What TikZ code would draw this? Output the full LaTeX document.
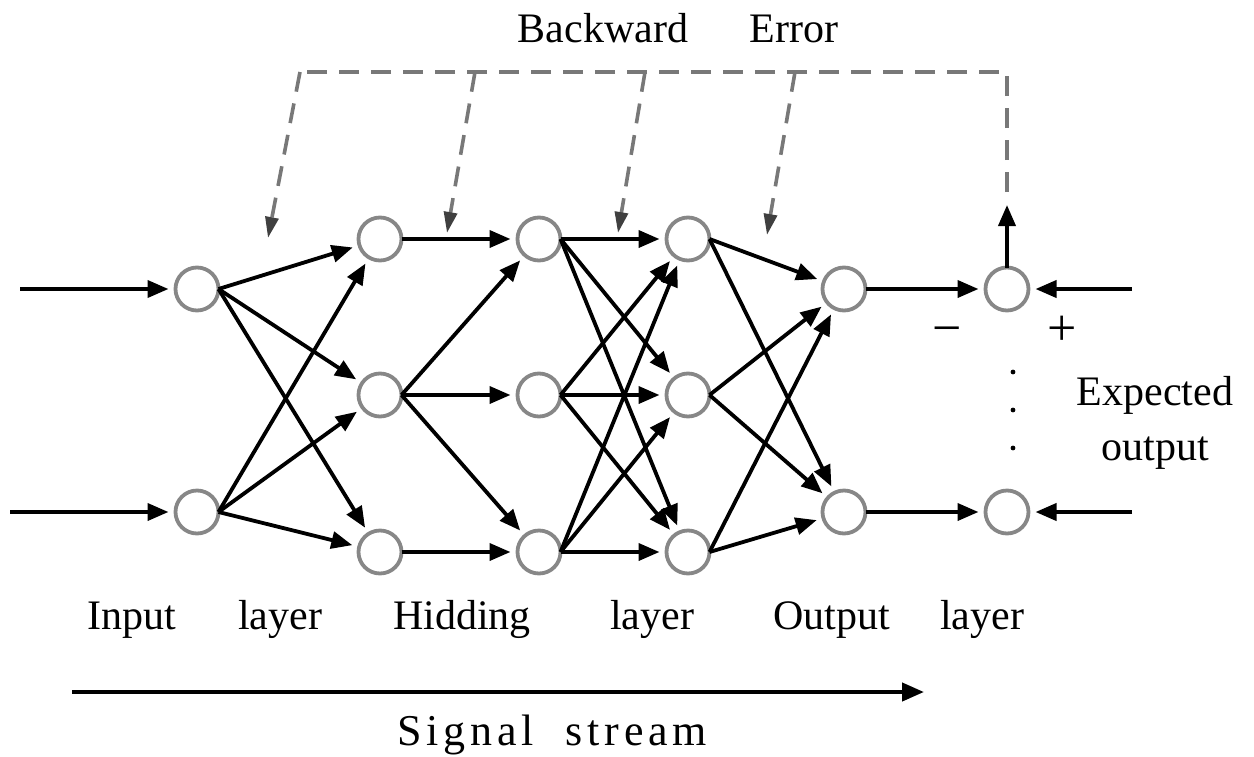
\documentclass[tikz,border=0pt]{standalone}
\usepackage{fontspec}
\setmainfont{Liberation Serif}
\usetikzlibrary{arrows.meta}
\definecolor{ngray}{RGB}{135,135,135}
\definecolor{dgray}{RGB}{120,120,120}
\begin{document}
\begin{tikzpicture}[x=1pt,y=-1pt,
  neuron/.style={circle,draw=ngray,line width=3.8pt,minimum size=43pt,inner sep=0pt,outer sep=0pt},
  conn/.style={line width=3.8pt,-{Triangle[length=21pt,width=17pt]},shorten >=7pt},
  fb/.style={draw=dgray,line width=3.6pt,dash pattern=on 20pt off 12pt},
  fbarr/.style={fb,-{Triangle[length=21pt,width=13pt,color=black!75]}},
  lbl/.style={font=\fontsize{42}{48}\selectfont,anchor=base,inner sep=0pt}
]
\useasboundingbox (0,0) rectangle (1254,756);
% neurons
\node[neuron] (i1) at (197,289) {};
\node[neuron] (i2) at (197,512) {};
\node[neuron] (h1a) at (380,239) {};
\node[neuron] (h1b) at (380,395) {};
\node[neuron] (h1c) at (380,552) {};
\node[neuron] (h2a) at (539,239) {};
\node[neuron] (h2b) at (539,395) {};
\node[neuron] (h2c) at (539,552) {};
\node[neuron] (h3a) at (688,239) {};
\node[neuron] (h3b) at (688,395) {};
\node[neuron] (h3c) at (688,552) {};
\node[neuron] (o1) at (844,289) {};
\node[neuron] (o2) at (844,512) {};
\node[neuron] (e1) at (1007,289) {};
\node[neuron] (e2) at (1007,512) {};
% inputs
\coordinate (in1) at (20,289);
\coordinate (in2) at (10,512);
\draw[conn] (in1) -- (i1);
\draw[conn] (in2) -- (i2);
% input -> hidden1
\foreach \s in {i1,i2}{
  \foreach \t in {h1a,h1b,h1c}{
    \draw[conn] (\s.east) -- (\t);
  }
}
% hidden1 -> hidden2
\draw[conn] (h1a.east) -- (h2a);
\draw[conn] (h1b.east) -- (h2a);
\draw[conn] (h1b.east) -- (h2b);
\draw[conn] (h1b.east) -- (h2c);
\draw[conn] (h1c.east) -- (h2c);
% hidden2 -> hidden3
\foreach \s in {h2a,h2b,h2c}{
  \foreach \t in {h3a,h3b,h3c}{
    \draw[conn] (\s.east) -- (\t);
  }
}
% hidden3 -> output
\foreach \s in {h3a,h3b,h3c}{
  \foreach \t in {o1,o2}{
    \draw[conn] (\s.east) -- (\t);
  }
}
% output -> error
\draw[conn] (o1.east) -- (e1);
\draw[conn] (o2.east) -- (e2);
% expected
\coordinate (x1) at (1132,289);
\coordinate (x2) at (1132,512);
\draw[conn] (x1) -- (e1);
\draw[conn] (x2) -- (e2);
% error up
\coordinate (up) at (1007,205);
\draw[conn,shorten >=0pt] (e1.north) -- (up);
% feedback
\coordinate (fbb) at (1007,192);
\coordinate (fbR) at (1007,72);
\coordinate (fbL) at (298,72);
\coordinate (t1) at (300,72);
\coordinate (t2) at (475,72);
\coordinate (t3) at (645,72);
\coordinate (t4) at (795,72);
\coordinate (a1) at (268,238);
\coordinate (a2) at (447,233);
\coordinate (a3) at (618,233);
\coordinate (a4) at (767,235);
\draw[fb] (fbb) -- (fbR) -- (fbL);
\draw[fbarr] (t1) -- (a1);
\draw[fbarr] (t2) -- (a2);
\draw[fbarr] (t3) -- (a3);
\draw[fbarr] (t4) -- (a4);
% labels
\node[lbl] (bw) at (603,42) {Backward};
\node[lbl] (er) at (794,42) {Error};
\node[lbl] (l1) at (132,629) {Input};
\node[lbl] (l2) at (280,629) {layer};
\node[lbl] (l3) at (462,629) {Hidding};
\node[lbl] (l4) at (652,629) {layer};
\node[lbl] (l5) at (832,629) {Output};
\node[lbl] (l6) at (982,629) {layer};
\node[lbl] (ex1) at (1155,405) {Expected};
\node[lbl] (ex2) at (1155,460) {output};
\node[font=\fontsize{52}{56}\selectfont,inner sep=0pt] (mi) at (947,336) {−};
\node[font=\fontsize{52}{56}\selectfont,inner sep=0pt] (pl) at (1062,331) {+};
\foreach \yy in {372,410,448}{
  \fill (1013,\yy) circle (2.4pt);
}
% signal stream
\coordinate (ss1) at (72,692);
\coordinate (ss2) at (924,692);
\draw[line width=4.2pt,-{Triangle[length=22pt,width=18pt]}] (ss1) -- (ss2);
\node[lbl,font=\fontsize{44}{50}\selectfont\addfontfeature{LetterSpace=11}] (sig) at (552,745) {Signal\hspace{16pt} stream};
\end{tikzpicture}
\end{document}
